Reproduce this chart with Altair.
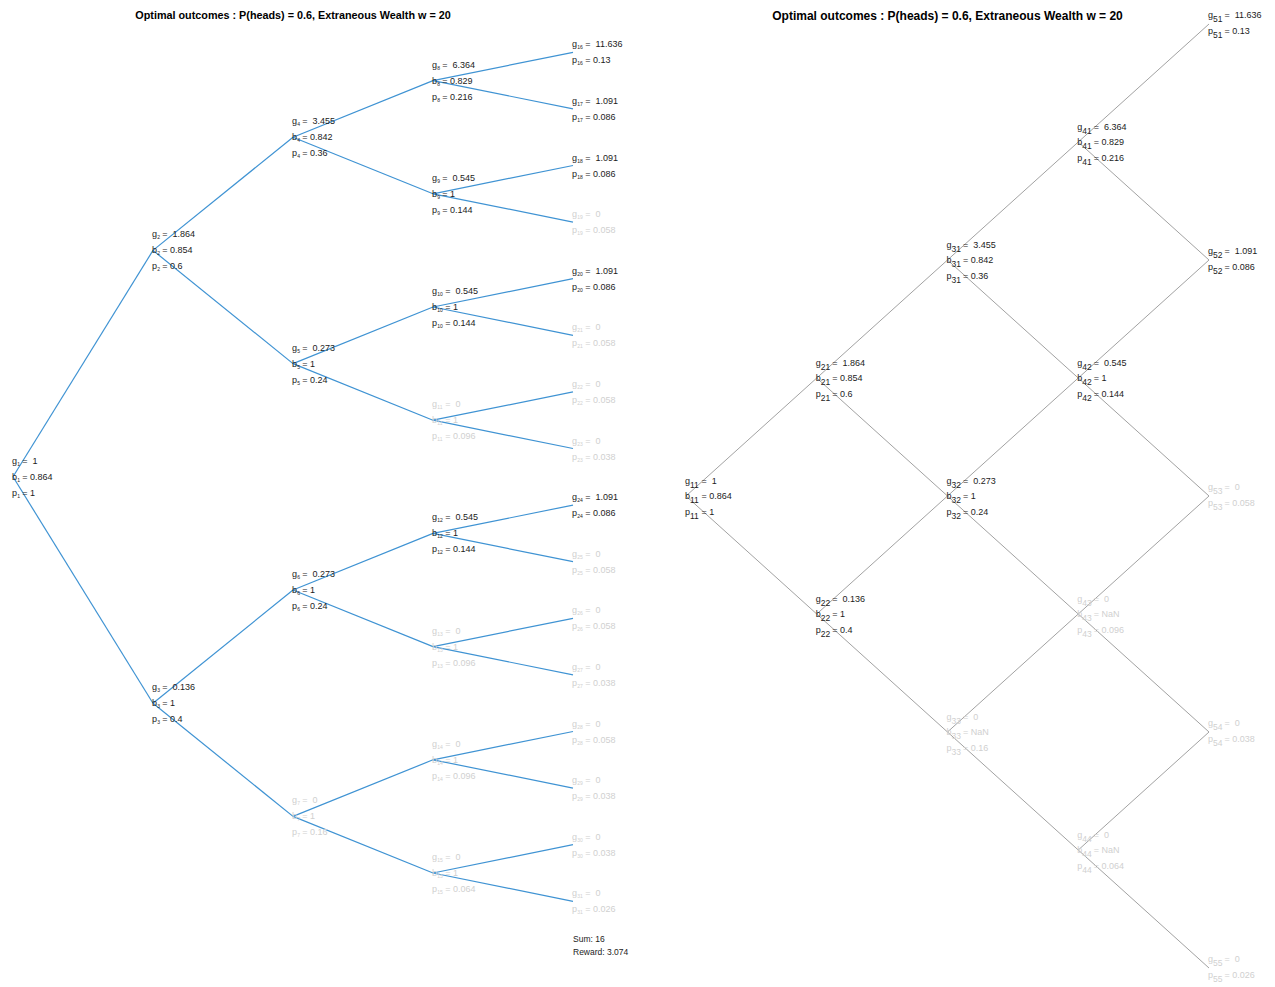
import math
import altair as alt
import pandas as pd

TITLE = "Optimal outcomes : P(heads) = 0.6, Extraneous Wealth w = 20"

# ---------------- left panel: binary tree, nodes 1..31 (children of k are 2k, 2k+1)
tree_g = [1, 1.864, 0.136, 3.455, 0.273, 0.273, 0, 6.364, 0.545, 0.545, 0, 0.545, 0, 0, 0,
          11.636, 1.091, 1.091, 0, 1.091, 0, 0, 0, 1.091, 0, 0, 0, 0, 0, 0, 0]
tree_b = [0.864, 0.854, 1, 0.842, 1, 1, 1, 0.829, 1, 1, 1, 1, 1, 1, 1]
tree_p = [1, 0.6, 0.4, 0.36, 0.24, 0.24, 0.16, 0.216, 0.144, 0.144, 0.096, 0.144, 0.096, 0.096, 0.064,
          0.13, 0.086, 0.086, 0.058, 0.086, 0.058, 0.058, 0.038, 0.086, 0.058, 0.058, 0.038,
          0.058, 0.038, 0.038, 0.026]
summary_lines = ["Sum: 16", "Reward: 3.074"]

# ---------------- right panel: recombining lattice, node (level, index)
lat_level = [1, 2, 2, 3, 3, 3, 4, 4, 4, 4, 5, 5, 5, 5, 5]
lat_index = [1, 1, 2, 1, 2, 3, 1, 2, 3, 4, 1, 2, 3, 4, 5]
lat_g = [1, 1.864, 0.136, 3.455, 0.273, 0, 6.364, 0.545, 0, 0, 11.636, 1.091, 0, 0, 0]
lat_b = ["0.864", "0.854", "1", "0.842", "1", "NaN", "0.829", "1", "NaN", "NaN"]
lat_p = [1, 0.6, 0.4, 0.36, 0.24, 0.16, 0.216, 0.144, 0.096, 0.064, 0.13, 0.086, 0.058, 0.038, 0.026]

INK = "#1c1c1c"
FADED = "#d0d0d0"
BLUE = "#3f93d3"
GREY = "#a2a2a2"
FONT = "Liberation Sans"
NB = "\u00a0"


def fmt(v):
    return v if isinstance(v, str) else f"{v:g}"


color = alt.Color("state:N", scale=alt.Scale(domain=["on", "off"], range=[INK, FADED]), legend=None)

# ---------- left tree geometry (structural)
n_tree = len(tree_g)
depth = int(math.log2(n_tree + 1)) - 1
n_leaf = 2 ** depth


def tree_pos(k):
    L = int(math.floor(math.log2(k)))
    i = k - 2 ** L
    return L, (i + 0.5) * 2 ** (depth - L) - 0.5


L_H = 944
L_W = 560
slot_px = 56.6
lx = alt.Scale(domain=[0, depth], nice=False, zero=False)
ly = alt.Scale(domain=[-0.5, -0.5 + L_H / slot_px], nice=False, zero=False, reverse=True)

edges = []
for k in range(1, n_tree + 1):
    L, s = tree_pos(k)
    for c in (2 * k, 2 * k + 1):
        if c <= n_tree:
            Lc, sc = tree_pos(c)
            edges.append(dict(x0=L, y0=s, x1=Lc, y1=sc))
edges = pd.DataFrame(edges)

rows = []
for k in range(1, n_tree + 1):
    L, s = tree_pos(k)
    st = "on" if tree_g[k - 1] != 0 else "off"
    nd = len(str(k))
    leaf = L == depth
    items = [("g", "=" + NB + NB + fmt(tree_g[k - 1]), -8 if leaf else -16)]
    if not leaf:
        items.append(("b", "= " + fmt(tree_b[k - 1]), 0))
    items.append(("p", "= " + fmt(tree_p[k - 1]), 8 if leaf else 16))
    for letter, rest, dy in items:
        rows.append(dict(x=L, y=s, letter=letter, sub=str(k), rest=rest, state=st, dy=dy, nd=nd))
ltext = pd.DataFrame(rows)

left_layers = [
    alt.Chart(edges).mark_rule(color=BLUE, strokeWidth=1.2).encode(
        x=alt.X("x0:Q", scale=lx, axis=None), y=alt.Y("y0:Q", scale=ly, axis=None),
        x2="x1:Q", y2="y1:Q")
]
rest_dx = {1: 9.3, 2: 12.3}
for (dy, nd), sub in ltext.groupby(["dy", "nd"]):
    base = alt.Chart(sub).encode(x=alt.X("x:Q", scale=lx, axis=None),
                                 y=alt.Y("y:Q", scale=ly, axis=None), color=color)
    left_layers.append(base.mark_text(align="left", baseline="middle", font=FONT, fontSize=9,
                                      dx=-1, dy=int(dy)).encode(text="letter:N"))
    left_layers.append(base.mark_text(align="left", baseline="middle", font=FONT, fontSize=5,
                                      dx=4.3, dy=int(dy) + 3).encode(text="sub:N"))
    left_layers.append(base.mark_text(align="left", baseline="middle", font=FONT, fontSize=9,
                                      dx=rest_dx[nd], dy=int(dy)).encode(text="rest:N"))

summ = pd.DataFrame({"x": [depth], "y": [n_leaf - 1]})
for i, line in enumerate(summary_lines):
    left_layers.append(
        alt.Chart(summ).mark_text(align="left", baseline="middle", font=FONT, fontSize=8.5,
                                  color=INK, dy=38 + 13 * i, text=line).encode(
            x=alt.X("x:Q", scale=lx, axis=None), y=alt.Y("y:Q", scale=ly, axis=None)))

left = alt.layer(*left_layers).properties(
    width=L_W, height=L_H,
    title=alt.TitleParams(TITLE, font=FONT, fontSize=10.8, fontWeight="bold", color="black",
                          anchor="middle", frame="group", baseline="bottom", offset=-8))

# ---------- right lattice geometry (structural)
R_W = 523
R_H = 944
n_lvl = max(lat_level)
rx = alt.Scale(domain=[1, n_lvl], nice=False, zero=False)
ry = alt.Scale(domain=[-(n_lvl - 1), n_lvl - 1], nice=False, zero=False, reverse=True)


def lat_row(i, j):
    return 2 * j - i - 1


ledges = []
for i, j in zip(lat_level, lat_index):
    if i < n_lvl:
        for jj in (j, j + 1):
            ledges.append(dict(x0=i, y0=lat_row(i, j), x1=i + 1, y1=lat_row(i + 1, jj)))
ledges = pd.DataFrame(ledges)

rrows = []
for n, (i, j) in enumerate(zip(lat_level, lat_index)):
    st = "on" if lat_g[n] != 0 else "off"
    leaf = i == n_lvl
    items = [("g", "=" + NB + NB + fmt(lat_g[n]), -9 if leaf else -15)]
    if not leaf:
        items.append(("b", "= " + fmt(lat_b[n]), 0))
    items.append(("p", "= " + fmt(lat_p[n]), 7 if leaf else 16))
    for letter, rest, dy in items:
        rrows.append(dict(x=i, y=lat_row(i, j), letter=letter, sub=f"{i}{j}", rest=rest,
                          state=st, dy=dy))
rtext = pd.DataFrame(rrows)

right_layers = [
    alt.Chart(ledges).mark_rule(color=GREY, strokeWidth=1).encode(
        x=alt.X("x0:Q", scale=rx, axis=None), y=alt.Y("y0:Q", scale=ry, axis=None),
        x2="x1:Q", y2="y1:Q")
]
for dy, sub in rtext.groupby("dy"):
    base = alt.Chart(sub).encode(x=alt.X("x:Q", scale=rx, axis=None),
                                 y=alt.Y("y:Q", scale=ry, axis=None), color=color)
    right_layers.append(base.mark_text(align="left", baseline="middle", font=FONT, fontSize=9,
                                       dx=-1, dy=int(dy)).encode(text="letter:N"))
    right_layers.append(base.mark_text(align="left", baseline="middle", font=FONT, fontSize=8.5,
                                       dx=4, dy=int(dy) + 3.5).encode(text="sub:N"))
    right_layers.append(base.mark_text(align="left", baseline="middle", font=FONT, fontSize=9,
                                       dx=15.5, dy=int(dy)).encode(text="rest:N"))

right = alt.layer(*right_layers).properties(
    width=R_W, height=R_H,
    title=alt.TitleParams(TITLE, font=FONT, fontSize=12, fontWeight="bold", color="black",
                          anchor="middle", frame="group", baseline="bottom", offset=-24))

chart = alt.hconcat(left, right, spacing=113, bounds="flush").properties(
    padding={"left": 4, "top": 2, "right": 5, "bottom": 5}
).configure_view(stroke=None)

chart.save("out.html", embed_options={"renderer": "svg", "actions": False})
